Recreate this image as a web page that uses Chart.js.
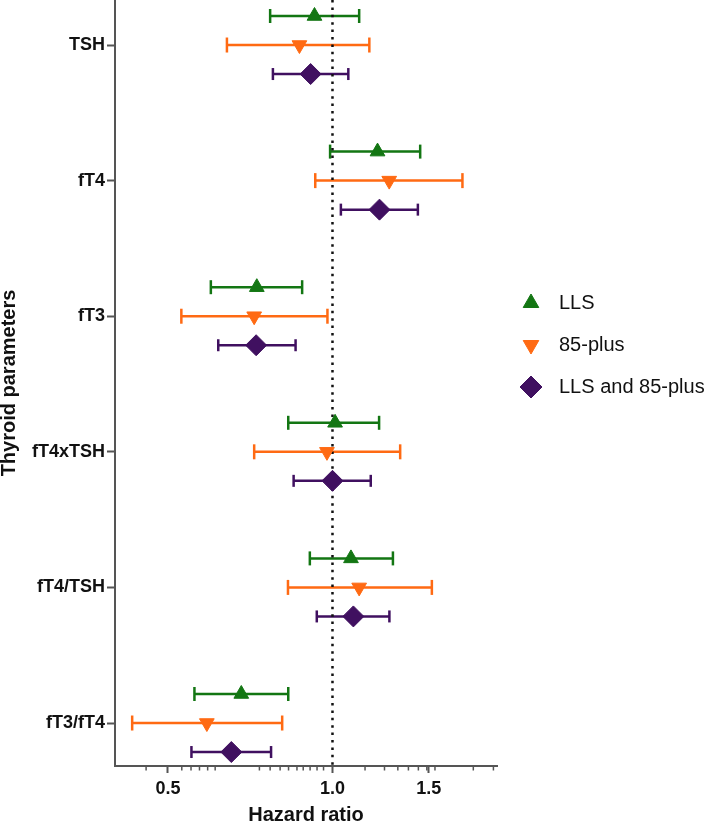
<!DOCTYPE html>
<html>
<head>
<meta charset="utf-8">
<script src="https://cdn.jsdelivr.net/npm/chart.js@4.4.1/dist/chart.umd.min.js"></script>
<style>body{margin:0;background:#fff}</style>
</head>
<body>
<canvas id="forest" width="709" height="824"></canvas>
<script>
// thyroid parameters, top to bottom
const params = ['TSH', 'fT4', 'fT3', 'fT4xTSH', 'fT4/TSH', 'fT3/fT4'];

// hazard ratios with 95% CI
const llsHR  = [0.927, 1.209, 0.727, 1.011, 1.081, 0.681];
const llsLo  = [0.769, 0.990, 0.599, 0.830, 0.909, 0.559];
const llsHi  = [1.119, 1.447, 0.880, 1.217, 1.290, 0.830];

const plusHR = [0.870, 1.270, 0.719, 0.977, 1.119, 0.589];
const plusLo = [0.641, 0.930, 0.529, 0.719, 0.829, 0.430];
const plusHi = [1.168, 1.729, 0.979, 1.330, 1.520, 0.809];

const bothHR = [0.912, 1.219, 0.725, 1.000, 1.092, 0.653];
const bothLo = [0.778, 1.036, 0.618, 0.849, 0.936, 0.552];
const bothHi = [1.069, 1.433, 0.856, 1.175, 1.271, 0.772];

const xTicks = [0.5, 1.0, 1.5];
const minorTicks = [0.456, 0.53, 0.551, 0.571, 0.591, 0.61, 0.735, 0.769, 0.802, 0.831,
  0.861, 0.884, 0.91, 0.937, 0.963, 1.147, 1.245, 1.317, 1.377, 1.436, 1.488, 1.54, 1.81, 1.97];

const GREEN = '#137613', ORANGE = '#ff6a13', PURPLE = '#401060';
const FONT = '"Liberation Sans", Arial, sans-serif';
const SHIFT = 0.214; // row offset within a parameter

function markers(hr, shift) {
  return params.map((p, i) => ({x: hr[i], y: i + 1 + shift}));
}
function whiskers(lo, hi, shift) {
  const pts = [];
  params.forEach((p, i) => {
    pts.push({x: lo[i], y: i + 1 + shift}, {x: hi[i], y: i + 1 + shift}, {x: null, y: null});
  });
  return pts;
}
function errDataset(lo, hi, shift, color, cap) {
  return {
    data: whiskers(lo, hi, shift), showLine: true, borderColor: color, borderWidth: 2.5,
    pointStyle: 'line', pointRotation: 90, pointRadius: cap, pointBorderWidth: 2.5,
    pointBorderColor: color, pointBackgroundColor: color
  };
}

const legendItems = [
  {label: 'LLS', color: GREEN, style: 'triangle', rot: 0, r: 9},
  {label: '85-plus', color: ORANGE, style: 'triangle', rot: 180, r: 9},
  {label: 'LLS and 85-plus', color: PURPLE, style: 'rectRot', rot: 0, r: 11}
];

const extras = {
  id: 'extras',
  afterDraw(chart) {
    const ctx = chart.ctx;
    const xs = chart.scales.x;
    ctx.save();
    ctx.strokeStyle = '#555';
    ctx.lineWidth = 1.5;
    minorTicks.forEach(v => {
      const px = xs.getPixelForValue(v);
      ctx.beginPath();
      ctx.moveTo(px, xs.top);
      ctx.lineTo(px, xs.top + 4.5);
      ctx.stroke();
    });
    legendItems.forEach((it, k) => {
      const y = 303 + k * 42;
      ctx.fillStyle = it.color;
      ctx.strokeStyle = it.color;
      ctx.lineWidth = 1;
      Chart.helpers.drawPoint(ctx, {pointStyle: it.style, rotation: it.rot, radius: it.r, borderWidth: 1}, 531, y);
      ctx.fillStyle = '#111';
      ctx.font = '20px ' + FONT;
      ctx.textBaseline = 'middle';
      ctx.fillText(it.label, 559, y);
    });
    ctx.restore();
  }
};

new Chart(document.getElementById('forest'), {
  type: 'scatter',
  data: {
    datasets: [
      {data: markers(llsHR, -SHIFT), pointStyle: 'triangle', pointRadius: 8.5, backgroundColor: GREEN, borderColor: GREEN, borderWidth: 1},
      {data: markers(plusHR, 0), pointStyle: 'triangle', pointRotation: 180, pointRadius: 8.5, backgroundColor: ORANGE, borderColor: ORANGE, borderWidth: 1},
      {data: markers(bothHR, SHIFT), pointStyle: 'rectRot', pointRadius: 10.5, backgroundColor: PURPLE, borderColor: PURPLE, borderWidth: 1},
      {data: [{x: 1, y: 0.668}, {x: 1, y: 6.317}], showLine: true, borderColor: '#111', borderWidth: 2.5,
        borderDash: [2.5, 4.9], pointRadius: 0},
      errDataset(llsLo, llsHi, -SHIFT, GREEN, 7),
      errDataset(plusLo, plusHi, 0, ORANGE, 7.5),
      errDataset(bothLo, bothHi, SHIFT, PURPLE, 6)
    ]
  },
  options: {
    responsive: false,
    animation: false,
    events: [],
    layout: {autoPadding: false, padding: {left: 0, right: 212, top: 0, bottom: 0}},
    plugins: {legend: {display: false}, tooltip: {enabled: false}},
    scales: {
      x: {
        type: 'logarithmic', min: 0.4, max: 2.0,
        afterBuildTicks: s => { s.ticks = xTicks.map(v => ({value: v})); },
        afterFit: s => { s.height = 58; s.paddingLeft = 0; s.paddingRight = 0; },
        grid: {drawOnChartArea: false, tickLength: 7, tickWidth: 2, tickColor: '#555'},
        border: {color: '#555', width: 2},
        ticks: {color: '#111', font: {family: FONT, size: 18, weight: 'bold'}, padding: 5,
          maxRotation: 0, autoSkip: false, callback: v => Number(v).toFixed(1)},
        title: {display: true, text: 'Hazard ratio', color: '#111',
          font: {family: FONT, size: 20, weight: 'bold', lineHeight: 0.9}, padding: {top: 0, bottom: 0}}
      },
      y: {
        type: 'linear', reverse: true, min: 0.668, max: 6.317,
        afterBuildTicks: s => { s.ticks = params.map((p, i) => ({value: i + 1})); },
        afterFit: s => { s.width = 115; s.paddingTop = 0; s.paddingBottom = 0; },
        grid: {drawOnChartArea: false, tickLength: 8, tickWidth: 2, tickColor: '#555'},
        border: {color: '#555', width: 2},
        ticks: {color: '#111', font: {family: FONT, size: 18, weight: 'bold'}, padding: 2,
          autoSkip: false, callback: v => params[Math.round(v) - 1]},
        title: {display: true, text: 'Thyroid parameters', color: '#111',
          font: {family: FONT, size: 20, weight: 'bold', lineHeight: 0.9}, padding: {top: 0, bottom: 0}}
      }
    }
  },
  plugins: [extras]
});
</script>
</body>
</html>
